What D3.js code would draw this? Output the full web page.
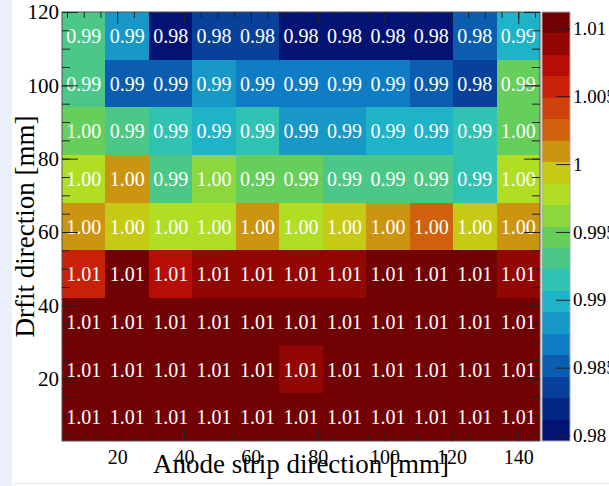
<!DOCTYPE html>
<html>
<head>
<meta charset="utf-8">
<style>
  body { margin: 0; background: #fff; }
  svg { display: block; font-family: "Liberation Serif", "Times New Roman", serif; }
</style>
</head>
<body>
<script src="https://cdn.jsdelivr.net/npm/d3@7/dist/d3.min.js"></script>
<script>

// bin edges [mm]
var xBins = [3.5, 16.5, 29.5, 42.5, 55.5, 68.5, 81.5, 94.5, 107.5, 120.5, 133.5, 146.5];
var yBins = [3, 16, 29, 42, 55, 68, 81, 94, 107, 120];

// ratio per cell, one row per y bin (bottom row first)
var row0 = [1.0106, 1.0104, 1.0108, 1.0103, 1.0105, 1.0101, 1.0107, 1.0104, 1.0106, 1.0102, 1.0105];
var row1 = [1.0105, 1.0107, 1.0103, 1.0104, 1.0106, 1.0091, 1.0104, 1.0108, 1.0105, 1.0103, 1.0106];
var row2 = [1.0109, 1.0112, 1.0107, 1.0104, 1.0106, 1.0103, 1.0105, 1.0108, 1.0106, 1.0104, 1.0102];
var row3 = [1.0058, 1.0104, 1.0073, 1.0088, 1.0089, 1.0087, 1.0090, 1.0105, 1.0103, 1.0106, 1.0088];
var row4 = [1.0010, 0.9993, 0.9977, 0.9979, 1.0008, 0.9976, 0.9994, 1.0011, 1.0026, 0.9992, 1.0009];
var row5 = [0.9976, 1.0009, 0.9929, 0.9962, 0.9945, 0.9944, 0.9931, 0.9930, 0.9932, 0.9916, 0.9978];
var row6 = [0.9951, 0.9932, 0.9915, 0.9898, 0.9913, 0.9884, 0.9886, 0.9899, 0.9897, 0.9914, 0.9952];
var row7 = [0.9931, 0.9851, 0.9852, 0.9882, 0.9868, 0.9867, 0.9866, 0.9869, 0.9853, 0.9838, 0.9944];
var row8 = [0.9930, 0.9883, 0.9796, 0.9835, 0.9835, 0.9805, 0.9803, 0.9804, 0.9806, 0.9847, 0.9898];
var rows = [row0, row1, row2, row3, row4, row5, row6, row7, row8];

var xTicks = [20, 40, 60, 80, 100, 120, 140];
var yTicks = [20, 40, 60, 80, 100, 120];
var zTicks = [0.98, 0.985, 0.99, 0.995, 1, 1.005, 1.01];

// ROOT kRainBow palette, 20 contours
var stops = [0, 0.125, 0.25, 0.375, 0.5, 0.625, 0.75, 0.875, 1];
var reds = [0, 5, 15, 35, 102, 196, 208, 199, 110];
var greens = [0, 48, 124, 192, 206, 226, 97, 16, 0];
var blues = [99, 142, 198, 201, 90, 22, 13, 8, 2];
var nContours = 20;

var W = 609, H = 486;
var frame = {left: 62, right: 540, top: 12, bottom: 441};
var bar = {left: 542, right: 570};

var svg = d3.select("body").append("svg")
  .attr("width", W)
  .attr("height", H);

// page decoration: pale strip on the left and a faint rule at the bottom
svg.append("rect").attr("x", 0).attr("y", 0).attr("width", 12).attr("height", H).attr("fill", "#eaf1fc");
svg.append("line").attr("x1", 14).attr("x2", W).attr("y1", 483.5).attr("y2", 483.5)
  .attr("stroke", "#e2e2e2");

var x = d3.scaleLinear().domain([xBins[0], xBins[xBins.length - 1]]).range([frame.left, frame.right]);
var y = d3.scaleLinear().domain([yBins[0], yBins[yBins.length - 1]]).range([frame.bottom, frame.top]);

var cells = [];
rows.forEach(function(r, j) {
  r.forEach(function(v, i) {
    cells.push({x0: xBins[i], x1: xBins[i + 1], y0: yBins[j], y1: yBins[j + 1], v: v});
  });
});

var zmin = d3.min(cells, function(d) { return d.v; });
var zmax = d3.max(cells, function(d) { return d.v; });

function paletteColor(k) {
  for (var g = 0; g < stops.length - 1; g++) {
    var a = Math.floor(255 * stops[g]), b = Math.floor(255 * stops[g + 1]);
    if (k < b || g == stops.length - 2) {
      var f = (k - a) / (b - a);
      return d3.rgb(
        Math.round(reds[g] + f * (reds[g + 1] - reds[g])),
        Math.round(greens[g] + f * (greens[g + 1] - greens[g])),
        Math.round(blues[g] + f * (blues[g + 1] - blues[g]))).toString();
    }
  }
}

var bandColors = d3.range(nContours).map(function(i) {
  return paletteColor(Math.floor((i + 0.99) * 255 / nContours));
});

function band(v) {
  var c = Math.floor(0.01 + (v - zmin) * nContours / (zmax - zmin));
  return Math.max(0, Math.min(nContours - 1, c));
}

// cells
svg.append("g")
  .selectAll("rect")
  .data(cells)
  .enter().append("rect")
  .attr("x", function(d) { return x(d.x0); })
  .attr("y", function(d) { return y(d.y1); })
  .attr("width", function(d) { return x(d.x1) - x(d.x0); })
  .attr("height", function(d) { return y(d.y0) - y(d.y1); })
  .attr("fill", function(d) { return bandColors[band(d.v)]; })
  .attr("shape-rendering", "crispEdges");

svg.append("g")
  .attr("font-size", 20)
  .attr("fill", "#fff")
  .attr("text-anchor", "middle")
  .selectAll("text")
  .data(cells)
  .enter().append("text")
  .attr("x", function(d) { return x((d.x0 + d.x1) / 2); })
  .attr("y", function(d) { return y((d.y0 + d.y1) / 2); })
  .attr("dy", "0.35em")
  .text(function(d) { return d3.format(".2f")(d.v); });

// frame + ticks on all four sides
svg.append("rect")
  .attr("x", frame.left).attr("y", frame.top)
  .attr("width", frame.right - frame.left).attr("height", frame.bottom - frame.top)
  .attr("fill", "none").attr("stroke", "#555");

var minorX = d3.range(5, 146, 5), minorY = d3.range(5, 121, 5);

function styleAxis(g, size) {
  g.select(".domain").remove();
  g.attr("font-family", null).attr("font-size", size || 10);
  g.selectAll("line").attr("stroke", "#222");
  g.selectAll("text").attr("fill", "#000");
}

svg.append("g").attr("transform", "translate(0," + frame.bottom + ")")
  .call(d3.axisBottom(x).tickValues(minorX).tickSize(-6).tickFormat(""))
  .call(styleAxis);
svg.append("g").attr("transform", "translate(0," + frame.bottom + ")")
  .call(d3.axisBottom(x).tickValues(xTicks).tickSize(-12).tickPadding(9).tickFormat(d3.format("d")))
  .call(styleAxis, 20);
svg.append("g").attr("transform", "translate(0," + frame.top + ")")
  .call(d3.axisTop(x).tickValues(minorX).tickSize(-6).tickFormat(""))
  .call(styleAxis);
svg.append("g").attr("transform", "translate(0," + frame.top + ")")
  .call(d3.axisTop(x).tickValues(xTicks).tickSize(-12).tickFormat(""))
  .call(styleAxis);

svg.append("g").attr("transform", "translate(" + frame.left + ",0)")
  .call(d3.axisLeft(y).tickValues(minorY).tickSize(-8).tickFormat(""))
  .call(styleAxis);
svg.append("g").attr("transform", "translate(" + frame.left + ",0)")
  .call(d3.axisLeft(y).tickValues(yTicks).tickSize(-16).tickPadding(3).tickFormat(d3.format("d")))
  .call(styleAxis, 21);
svg.append("g").attr("transform", "translate(" + frame.right + ",0)")
  .call(d3.axisRight(y).tickValues(minorY).tickSize(-8).tickFormat(""))
  .call(styleAxis);
svg.append("g").attr("transform", "translate(" + frame.right + ",0)")
  .call(d3.axisRight(y).tickValues(yTicks).tickSize(-16).tickFormat(""))
  .call(styleAxis);

// axis titles
svg.append("text")
  .attr("x", (frame.left + frame.right) / 2)
  .attr("y", 473)
  .attr("text-anchor", "middle")
  .attr("font-size", 27)
  .text("Anode strip direction [mm]");

svg.append("text")
  .attr("transform", "translate(34," + (frame.top + frame.bottom) / 2 + ") rotate(-90)")
  .attr("text-anchor", "middle")
  .attr("font-size", 27)
  .text("Drfit direction [mm]");

// colour bar
var z = d3.scaleLinear().domain([zmin, zmax]).range([frame.bottom, frame.top]);
var bandStep = (zmax - zmin) / nContours;

svg.append("g")
  .selectAll("rect")
  .data(bandColors)
  .enter().append("rect")
  .attr("x", bar.left)
  .attr("width", bar.right - bar.left)
  .attr("y", function(d, i) { return z(zmin + (i + 1) * bandStep); })
  .attr("height", function(d, i) { return z(zmin + i * bandStep) - z(zmin + (i + 1) * bandStep); })
  .attr("fill", function(d) { return d; })
  .attr("shape-rendering", "crispEdges");

svg.append("rect")
  .attr("x", bar.left).attr("y", frame.top)
  .attr("width", bar.right - bar.left).attr("height", frame.bottom - frame.top)
  .attr("fill", "none").attr("stroke", "#aaa");

svg.append("g").attr("transform", "translate(" + bar.right + ",0)")
  .call(d3.axisRight(z).tickValues(zTicks).tickSize(-14).tickPadding(3).tickFormat(d3.format("~g")))
  .call(styleAxis, 19);

</script>
</body>
</html>
